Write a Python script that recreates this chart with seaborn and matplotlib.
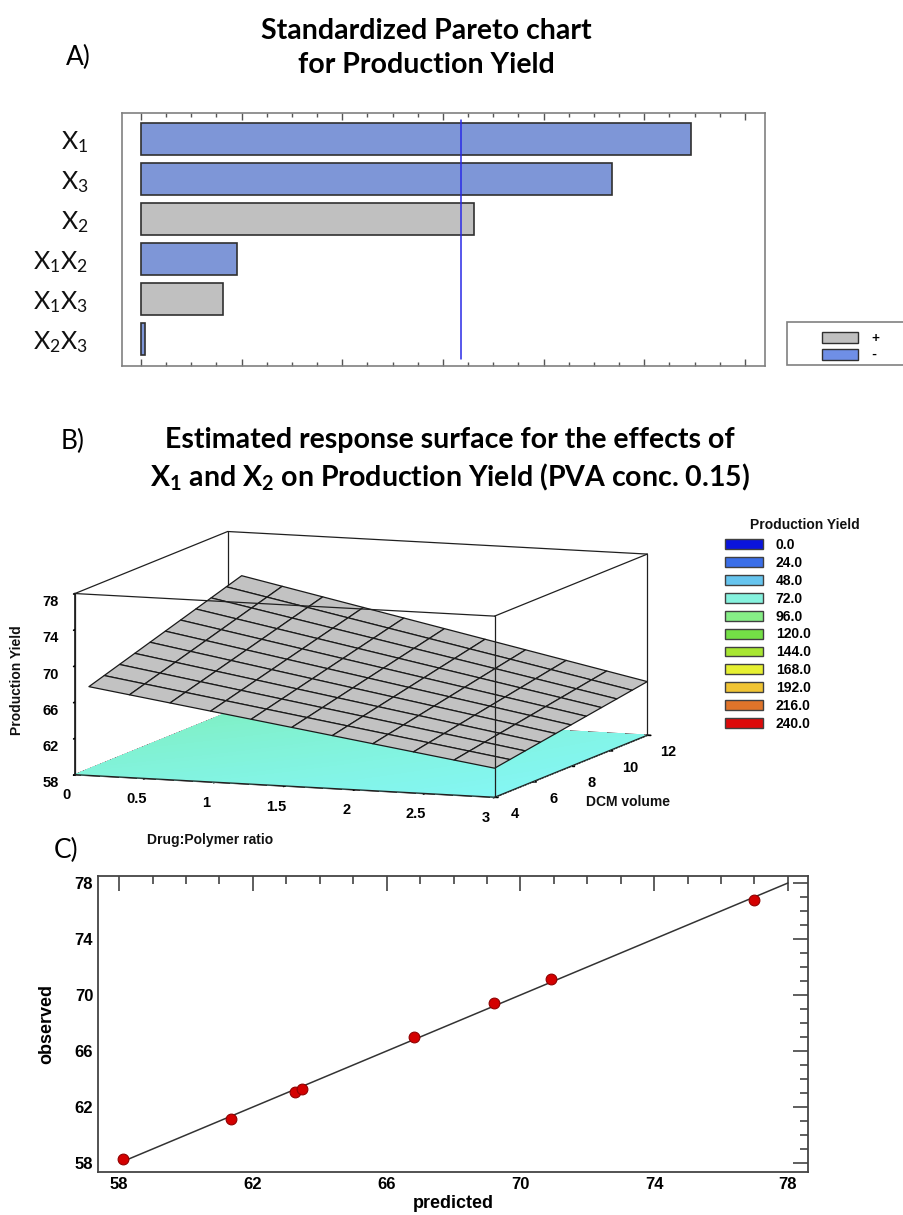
import numpy as np
import pandas as pd
import seaborn as sns
import matplotlib.pyplot as plt
from matplotlib.patches import Patch, Rectangle
from matplotlib.colors import LinearSegmentedColormap

sns.set_theme(style='white')
plt.rcParams['font.family'] = ['Lato', 'DejaVu Sans']
plt.rcParams['mathtext.fontset'] = 'custom'
plt.rcParams['mathtext.rm'] = 'Lato'
plt.rcParams['mathtext.bf'] = 'Lato:bold'
plt.rcParams['mathtext.it'] = 'Lato:italic'
plt.rcParams['text.color'] = 'black'
plt.rcParams['axes.labelcolor'] = 'black'
plt.rcParams['xtick.color'] = 'black'
plt.rcParams['ytick.color'] = 'black'

# --- A) standardized Pareto chart ---
terms = ['X1', 'X3', 'X2', 'X1X2', 'X1X3', 'X2X3']
term_labels = [r'$\mathregular{X_1}$', r'$\mathregular{X_3}$', r'$\mathregular{X_2}$',
               r'$\mathregular{X_1X_2}$', r'$\mathregular{X_1X_3}$', r'$\mathregular{X_2X_3}$']
effects = [5.46, 4.68, 3.31, 0.96, 0.82, 0.04]
signs = ['-', '-', '+', '-', '+', '-']
t_crit = 3.18

# --- B) response surface (fitted model, PVA conc. 0.15) ---
coef_const, coef_x1, coef_x2, coef_x1x2 = 65.28, -1.81, 0.687, -0.116
x1_range = [0.1, 3.0]
x2_range = [4.0, 12.0]
x1_ticks = [0, 0.5, 1, 1.5, 2, 2.5, 3]
x1_ticklabels = ['0', '0.5', '1', '1.5', '2', '2.5', '3']
x2_ticks = [4, 6, 8, 10, 12]
z_ticks = [58, 62, 66, 70, 74, 78]
legend_levels = ['0.0', '24.0', '48.0', '72.0', '96.0', '120.0', '144.0',
                 '168.0', '192.0', '216.0', '240.0']
legend_colors = ['#0a14dc', '#3a6ee8', '#66c4ee', '#86f2de', '#86ee86', '#74e046',
                 '#a8e632', '#e6f032', '#f0c434', '#e0742a', '#dc0a0a']

# --- C) observed vs predicted ---
predicted = [58.11, 61.36, 63.27, 63.47, 66.82, 69.22, 70.91, 77.0]
observed = [58.31, 61.17, 63.07, 63.31, 67.0, 69.43, 71.17, 76.79]
fit_line = [58.15, 78.0]

W, H = 904, 1215
fig = plt.figure(figsize=(W / 100, H / 100), dpi=100)


def rect(x0, y0, x1, y1):
    return [x0 / W, 1 - y1 / H, (x1 - x0) / W, (y1 - y0) / H]


blue = '#6f8fe6'
grey = '#c0c0c0'

# ---------------- A ----------------
axA = fig.add_axes(rect(121.7, 112.7, 765, 365.7))
dfA = pd.DataFrame({'term': terms, 'effect': effects, 'sign': signs})
sns.barplot(data=dfA, x='effect', y='term', hue='sign', palette={'+': grey, '-': blue},
            dodge=False, width=0.8, edgecolor='#303030', linewidth=1.2,
            legend=False, ax=axA, orient='h')
axA.axvline(t_crit, ymin=0.025, ymax=0.97, color='#2a2ae6', lw=1.1)
axA.set_xlim(-0.19, 6.2)
axA.set_ylim(5.67, -0.66)
axA.set_xlabel('')
axA.set_ylabel('')
axA.set_yticks(range(len(terms)))
axA.set_yticklabels(term_labels, fontsize=18, color='#111111')
axA.set_xticks(np.arange(0, 7, 1))
axA.set_xticks(np.arange(0, 6.01, 0.25), minor=True)
axA.tick_params(axis='x', which='both', direction='in', top=True, bottom=True,
                labelbottom=False, color='#555555')
axA.tick_params(axis='x', which='major', length=5, width=1)
axA.tick_params(axis='x', which='minor', length=3, width=1)
axA.tick_params(axis='y', length=0, pad=24)
for s in axA.spines.values():
    s.set_color('#808080')
    s.set_linewidth(1.2)

fig.text(426 / W, 1 - 48 / H, 'Standardized Pareto chart\nfor Production Yield',
         ha='center', va='center', fontsize=20.5, fontweight='bold', linespacing=1.4)
fig.text(78 / W, 1 - 57 / H, 'A)', ha='center', va='center', fontsize=19)

# Pareto legend
fig.patches.append(Rectangle((787 / W, 1 - 365 / H), 117 / W, 43 / H,
                             transform=fig.transFigure, fill=False,
                             edgecolor='#808080', lw=1.2))
fig.legend([Patch(facecolor=grey, edgecolor='#303030'),
            Patch(facecolor=blue, edgecolor='#303030')], ['+', '-'],
           loc='center left', bbox_to_anchor=(812 / W, 1 - 346.5 / H),
           frameon=False, handlelength=2.6, handleheight=0.8,
           handletextpad=1.0, labelspacing=0.35, borderpad=0.2,
           prop={'weight': 'bold', 'size': 10})

# ---------------- B ----------------
fig.text(450 / W, 1 - 460 / H,
         'Estimated response surface for the effects of\n'
         r'$\mathbf{X_1}$ and $\mathbf{X_2}$ on Production Yield (PVA conc. 0.15)',
         ha='center', va='center', fontsize=20.5, fontweight='bold', linespacing=1.4)
fig.text(73 / W, 1 - 441 / H, 'B)', ha='center', va='center', fontsize=19)

axB = fig.add_axes(rect(-4, 479.5, 716, 859.5), projection='3d', computed_zorder=False)
axB.set_proj_type('ortho')
axB.set_box_aspect((1, 1, 0.41), zoom=1.68)
axB.view_init(elev=8.5, azim=-70)

g1 = np.linspace(x1_range[0], x1_range[1], 11)
g2 = np.linspace(x2_range[0], x2_range[1], 11)
G1, G2 = np.meshgrid(g1, g2)
Z = coef_const + coef_x1 * G1 + coef_x2 * G2 + coef_x1x2 * G1 * G2

f1 = np.linspace(0, 3, 31)
f2 = np.linspace(4, 12, 31)
F1, F2 = np.meshgrid(f1, f2)
ZF = coef_const + coef_x1 * F1 + coef_x2 * F2 + coef_x1x2 * F1 * F2

xl, yl, zl = (0, 3), (4, 12), (58, 78)
edge = dict(color='#202020', lw=0.9)
# hidden edges first
axB.plot([xl[0], xl[1]], [yl[1], yl[1]], [zl[0], zl[0]], zorder=0, **edge)
axB.plot([xl[0], xl[0]], [yl[0], yl[1]], [zl[0], zl[0]], zorder=0, **edge)
floor_cmap = LinearSegmentedColormap.from_list('floor', ['#84f6f4', '#80f0c6'])
floor = axB.contourf(F1, F2, ZF, zdir='z', offset=zl[0], levels=30, cmap=floor_cmap,
                     zorder=1)
axB.plot([xl[0], xl[0]], [yl[1], yl[1]], [zl[0], zl[1]], zorder=2, **edge)
surf = axB.plot_surface(G1, G2, Z, color='#c2c2c2', edgecolor='#1a1a1a', linewidth=0.9,
                        shade=False, rstride=1, cstride=1, zorder=3)
for xs, ys, zs in [
    ([xl[0], xl[1]], [yl[0], yl[0]], [zl[0], zl[0]]),
    ([xl[0], xl[1]], [yl[0], yl[0]], [zl[1], zl[1]]),
    ([xl[0], xl[1]], [yl[1], yl[1]], [zl[1], zl[1]]),
    ([xl[0], xl[0]], [yl[0], yl[1]], [zl[1], zl[1]]),
    ([xl[1], xl[1]], [yl[0], yl[1]], [zl[1], zl[1]]),
    ([xl[1], xl[1]], [yl[0], yl[1]], [zl[0], zl[0]]),
    ([xl[0], xl[0]], [yl[0], yl[0]], [zl[0], zl[1]]),
    ([xl[1], xl[1]], [yl[0], yl[0]], [zl[0], zl[1]]),
    ([xl[1], xl[1]], [yl[1], yl[1]], [zl[0], zl[1]]),
]:
    axB.plot(xs, ys, zs, zorder=4, **edge)
# the square 3d axes patch would cut the zoomed box
floor.set_clip_on(False)
surf.set_clip_on(False)
for art in list(axB.collections) + list(axB.lines):
    art.set_clip_on(False)

axB.set_xlim(*xl)
axB.set_ylim(*yl)
axB.set_zlim(*zl)
axB.set_xticks(x1_ticks)
axB.set_xticklabels(x1_ticklabels, fontweight='bold', fontsize=10.5, family='Liberation Sans')
axB.set_yticks(x2_ticks)
axB.set_yticklabels([str(v) for v in x2_ticks], fontweight='bold', fontsize=10.5,
                    family='Liberation Sans')
axB.set_zticks(z_ticks)
axB.set_zticklabels([str(v) for v in z_ticks], fontweight='bold', fontsize=10.5,
                    family='Liberation Sans')
axB.zaxis.set_ticks_position('lower')
axB.grid(False)
for ax_ in (axB.xaxis, axB.yaxis, axB.zaxis):
    ax_.pane.set_visible(False)
    ax_.line.set_color('#202020')
    ax_._axinfo['tick']['inward_factor'] = 0.1
    ax_._axinfo['tick']['outward_factor'] = 0.0
axB.tick_params(axis='x', pad=0)
axB.tick_params(axis='y', pad=-1)
axB.tick_params(axis='z', pad=-2)

bold_ax = dict(fontsize=10, fontweight='bold', family='Liberation Sans', color='#111111')
fig.text(210 / W, 1 - 840 / H, 'Drug:Polymer ratio', ha='center', va='center', **bold_ax)
fig.text(628 / W, 1 - 802 / H, 'DCM volume', ha='center', va='center', **bold_ax)
fig.text(17 / W, 1 - 680 / H, 'Production Yield', ha='center', va='center',
         rotation=90, **bold_ax)

fig.text(805 / W, 1 - 525 / H, 'Production Yield', ha='center', va='center', **bold_ax)
fig.legend([Patch(facecolor=c, edgecolor='#404040', lw=1) for c in legend_colors],
           legend_levels, loc='upper left', bbox_to_anchor=(725 / W, 1 - 538 / H),
           frameon=False, handlelength=2.75, handleheight=0.72, handletextpad=0.9,
           labelspacing=0.28, borderpad=0, borderaxespad=0,
           prop={'weight': 'bold', 'size': 10, 'family': 'Liberation Sans'})

# ---------------- C ----------------
axC = fig.add_axes(rect(98, 876, 808, 1172))
sns.lineplot(x=fit_line, y=fit_line, color='#333333', lw=1.1, ax=axC)
sns.scatterplot(x=predicted, y=observed, color='#d40000', edgecolor='#900000',
                s=60, linewidth=0.8, ax=axC, zorder=3)
axC.set_xlim(57.37, 78.6)
axC.set_ylim(57.36, 78.5)
axC.set_xticks(z_ticks)
axC.set_yticks(z_ticks)
axC.set_xticks(np.arange(58, 78.1, 1), minor=True)
axC.set_yticks(np.arange(58, 78.1, 1), minor=True)
for lab in axC.get_xticklabels() + axC.get_yticklabels():
    lab.set_fontweight('bold')
    lab.set_fontsize(12)
    lab.set_family('Liberation Sans')
axC.tick_params(which='both', direction='in', top=True, right=True, color='#333333')
axC.tick_params(which='major', length=11, width=1.1)
axC.tick_params(which='minor', length=6, width=1.1)
axC.set_xlabel('predicted', fontsize=13, fontweight='bold', family='Liberation Sans',
               labelpad=2)
axC.set_ylabel('observed', fontsize=13, fontweight='bold', family='Liberation Sans',
               labelpad=14)
for s in axC.spines.values():
    s.set_color('#444444')
    s.set_linewidth(1.3)
fig.text(66 / W, 1 - 850 / H, 'C)', ha='center', va='center', fontsize=19)

fig.savefig('out.png', dpi=100)
